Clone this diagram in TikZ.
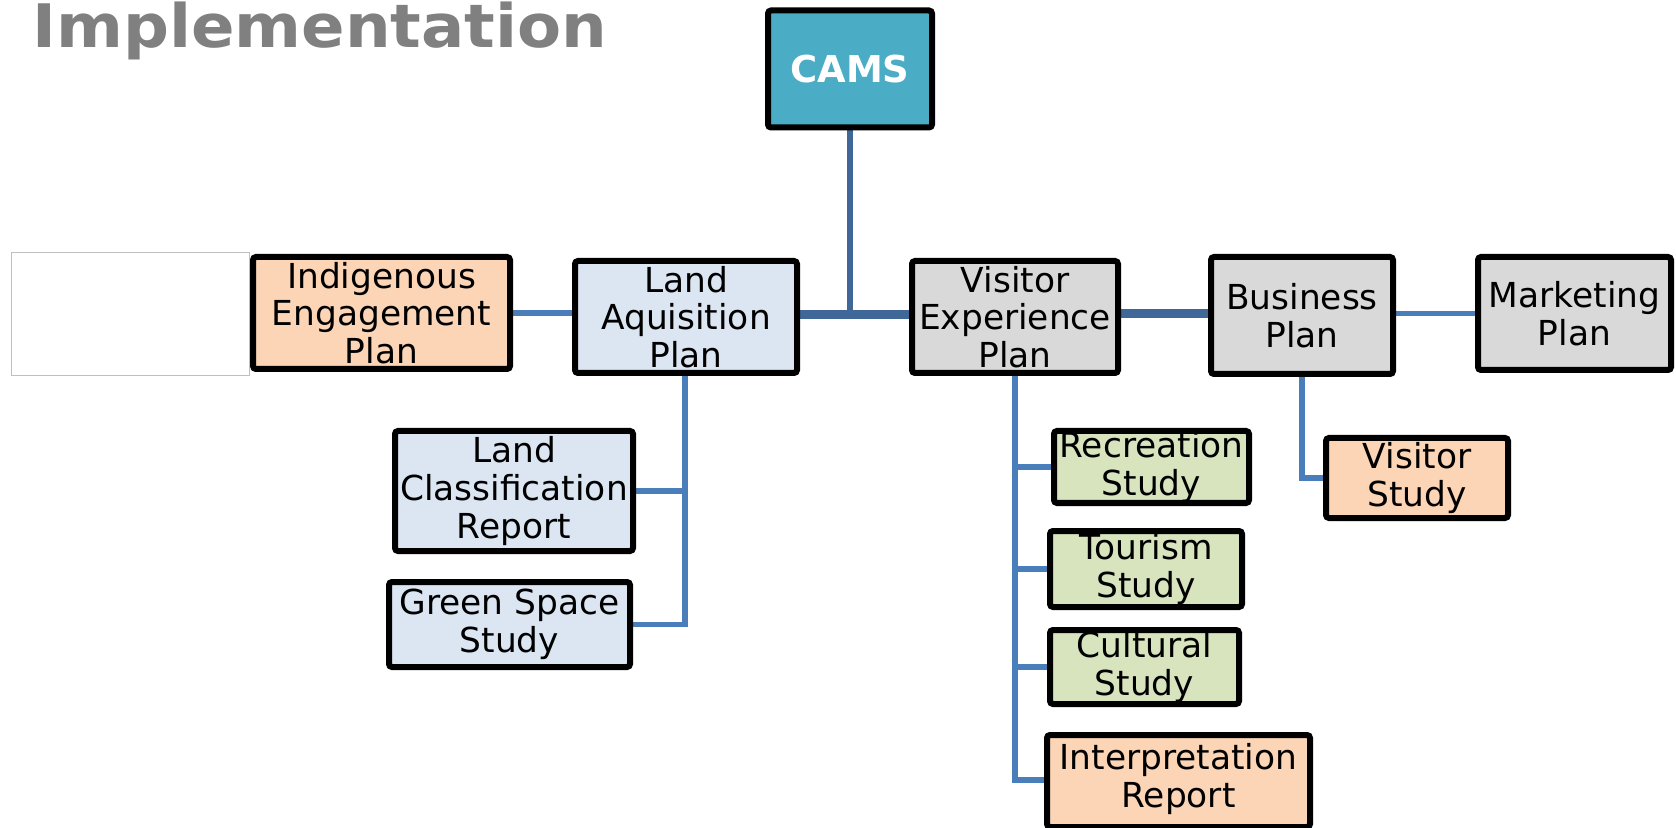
\documentclass[tikz,border=0pt]{standalone}
\usepackage{fontspec}
\setmainfont{DejaVu Sans}
\usetikzlibrary{backgrounds}
\definecolor{camsfill}{HTML}{4BACC6}
\definecolor{bluefill}{HTML}{DCE6F2}
\definecolor{grayfill}{HTML}{D9D9D9}
\definecolor{peachfill}{HTML}{FBD5B5}
\definecolor{greenfill}{HTML}{D7E4BD}
\definecolor{darkline}{HTML}{3F6898}
\definecolor{lightline}{HTML}{4A7EBB}
\definecolor{titlegray}{HTML}{808080}
\tikzset{
  box/.style={draw=black, line width=3pt, rounded corners=1.5pt, inner sep=0pt},
  txt/.style={align=center, inner sep=0pt, font=\fontsize{17.2pt}{18.9pt}\selectfont},
  trunk/.style={draw=darkline, line width=4.5pt},
  stem/.style={draw=darkline, line width=3.3pt},
  conn/.style={draw=lightline, line width=2.6pt},
}
\begin{document}
\begin{tikzpicture}[x=0.5pt,y=-0.5pt]
\useasboundingbox (0,0) rectangle (1676,828);
% title
\node[anchor=base west, inner sep=0pt, text=titlegray, xscale=1.07,
  font=\fontsize{30pt}{30pt}\selectfont\bfseries] (title) at (32,48) {Implementation};
% blank box
\node[draw=black!25, line width=0.5pt, minimum width=119pt, minimum height=61.5pt, inner sep=0pt] (blank) at (130,314.5) {};
% boxes
\node[box, fill=camsfill, minimum width=82pt, minimum height=58.5pt] (cams) at (850,69) {};
\node[inner sep=0pt, text=white, font=\fontsize{18.5pt}{18.5pt}\selectfont\bfseries] at (cams) {CAMS};
\node[box, fill=peachfill, minimum width=128.5pt, minimum height=56pt] (ind) at (381.5,313) {};
\node[txt] at (ind) {Indigenous\\Engagement\\Plan};
\node[box, fill=bluefill, minimum width=111pt, minimum height=56pt] (land) at (686,317) {};
\node[txt] at (land) {Land\\Aquisition\\Plan};
\node[box, fill=grayfill, minimum width=103pt, minimum height=56pt] (vep) at (1015,317) {};
\node[txt] at (vep) {Visitor\\Experience\\Plan};
\node[box, fill=grayfill, minimum width=91pt, minimum height=58.5pt] (bus) at (1302,315.5) {};
\node[txt] at (bus) {Business\\Plan};
\node[box, fill=grayfill, minimum width=96.5pt, minimum height=56.5pt] (mkt) at (1574.5,313.5) {};
\node[txt] at (mkt) {Marketing\\Plan};
\node[box, fill=bluefill, minimum width=119pt, minimum height=60pt] (lcr) at (514,491) {};
\node[txt] at (lcr) {Land\\Classification\\Report};
\node[box, fill=bluefill, minimum width=120.5pt, minimum height=42.5pt] (gss) at (509.5,624.5) {};
\node[txt] at (gss) {Green Space\\Study};
\node[box, fill=greenfill, minimum width=97.5pt, minimum height=36pt] (rec) at (1151.5,467) {};
\node[txt] at (rec) {Recreation\\Study};
\node[box, fill=greenfill, minimum width=96pt, minimum height=38pt] (tour) at (1146,569) {};
\node[txt] at (tour) {Tourism\\Study};
\node[box, fill=greenfill, minimum width=94.5pt, minimum height=37pt] (cult) at (1144.5,667) {};
\node[txt] at (cult) {Cultural\\Study};
\node[box, fill=peachfill, minimum width=131.5pt, minimum height=46pt] (interp) at (1178.5,781) {};
\node[txt] at (1178.5,779) {Interpretation\\Report};
\node[box, fill=peachfill, minimum width=91pt, minimum height=40pt] (vis) at (1417,478) {};
\node[txt] at (vis) {Visitor\\Study};
% connectors
\begin{pgfonlayer}{background}
\coordinate (jn) at (850,315);
\coordinate (jb) at (1160,314);
\path[stem] (cams.south) -- (cams.south |- jn);
\path[trunk] (land.east |- jn) -- (vep.west |- jn);
\path[trunk] (vep.east |- jb) -- (bus.west |- jb);
\path[conn] (ind.east) -- (ind.east -| land.west);
\path[conn] (mkt.west -| bus.east) -- (mkt.west);
\coordinate (ls) at (685,376);
\path[conn] (ls) -- (ls |- gss.east) -- (gss.east);
\path[conn] (ls |- lcr.east) -- (lcr.east);
\path[conn] (vep.south) -- (vep.south |- 0,780) -- (interp.west |- 0,780);
\path[conn] (vep.south |- rec.west) -- (rec.west);
\path[conn] (vep.south |- tour.west) -- (tour.west);
\path[conn] (vep.south |- cult.west) -- (cult.west);
\path[conn] (bus.south) -- (bus.south |- vis.west) -- (vis.west);
\end{pgfonlayer}
\end{tikzpicture}
\end{document}
